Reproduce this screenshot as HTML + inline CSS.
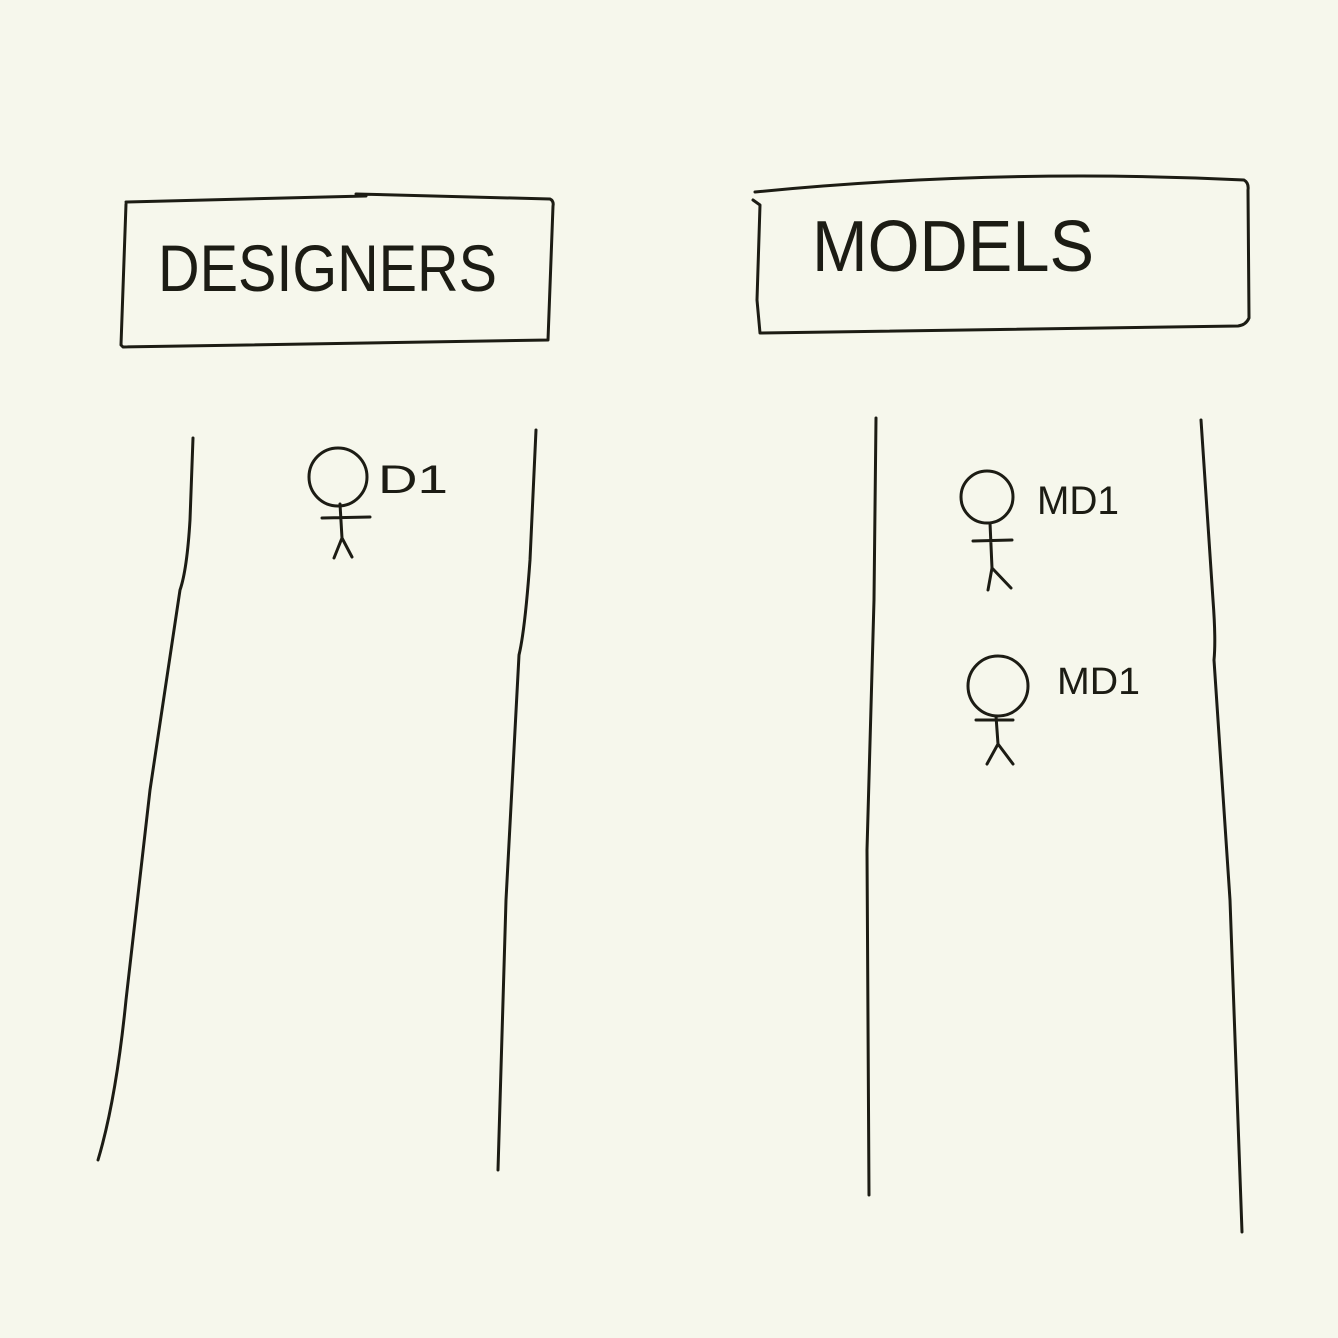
<!DOCTYPE html>
<html><head><meta charset="utf-8"><style>
html,body{margin:0;padding:0;background:#f6f7ec;}
svg{display:block}
text{font-family:"Liberation Sans",sans-serif;fill:#1c1c14;}
</style></head><body>
<svg width="1338" height="1338" viewBox="0 0 1338 1338" xmlns="http://www.w3.org/2000/svg">
<rect width="1338" height="1338" fill="#f6f7ec"/>
<g fill="none" stroke="#1c1c14" stroke-width="3" stroke-linecap="round" stroke-linejoin="round">
<path d="M126,202 L366,196 M356,194 L550,199 Q554,201 553,206 L548,340 L123,347 L121,345 L126,204"/>
<path d="M755,192 Q1000,168 1244,180 Q1249,183 1248,190 L1249,318 Q1246,325 1238,326 L760,333 L757,300 L760,205 L753,200"/>
<path d="M193,438 L190,520 Q187,570 180,590 L150,790 L126,1000 Q116,1100 98,1160"/>
<path d="M536,430 L530,560 Q525,630 519,655 L506,900 L498,1170"/>
<path d="M876,418 L874,600 L867,850 L869,1195"/>
<path d="M1201,420 L1213,600 Q1216,640 1214,660 L1230,900 L1242,1232"/>
<circle cx="338" cy="477" r="29"/>
<path d="M340,504 L342,538 M322,518 L370,517 M342,538 L334,558 M342,538 L352,557"/>
<circle cx="987" cy="497" r="26"/>
<path d="M990,523 L992,568 M973,541 L1012,540 M992,568 L988,590 M992,568 L1011,588"/>
<circle cx="998" cy="686" r="30"/>
<path d="M996,716 L998,744 M976,720 L1013,720 M998,744 L987,764 M998,744 L1013,764"/>
</g>
<text x="158" y="291" font-size="66" textLength="339" lengthAdjust="spacingAndGlyphs">DESIGNERS</text>
<text x="812" y="271" font-size="72" textLength="282" lengthAdjust="spacingAndGlyphs">MODELS</text>
<text x="378" y="493" font-size="40" textLength="70" lengthAdjust="spacingAndGlyphs">D1</text>
<text x="1037" y="514" font-size="40" textLength="82" lengthAdjust="spacingAndGlyphs">MD1</text>
<text x="1057" y="694" font-size="38" textLength="83" lengthAdjust="spacingAndGlyphs">MD1</text>
</svg>
</body></html>
